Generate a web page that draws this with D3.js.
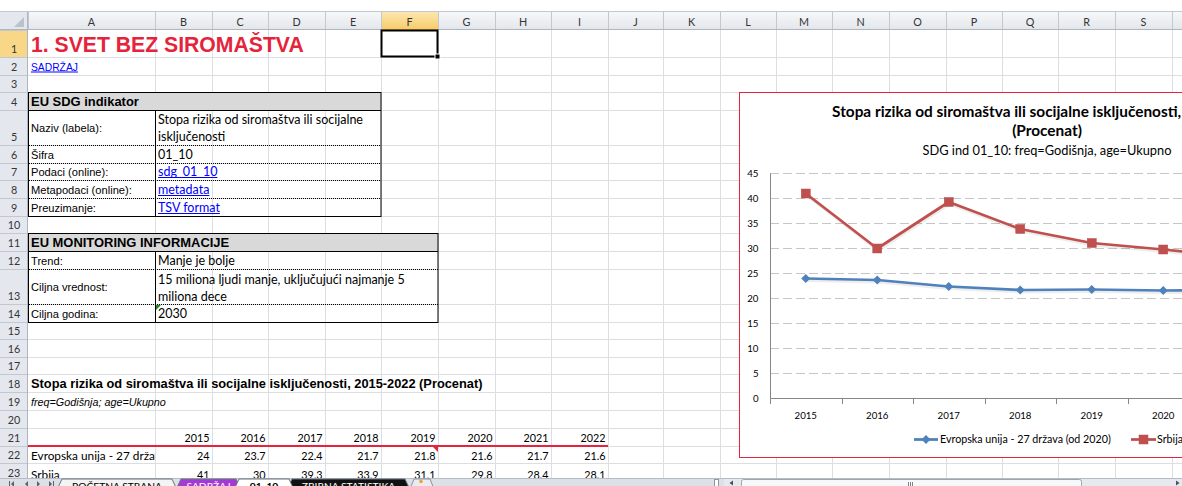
<!DOCTYPE html>
<html><head><meta charset="utf-8">
<script src="https://cdn.jsdelivr.net/npm/d3@7"></script>
<style>body{margin:0;background:#fff;overflow:hidden}</style>
</head><body>
<svg id="c" width="1182" height="486" xmlns="http://www.w3.org/2000/svg"></svg>
<script>
// ---------- data ----------
const years = [2015, 2016, 2017, 2018, 2019, 2020, 2021, 2022];
const euValues = [24, 23.7, 22.4, 21.7, 21.8, 21.6, 21.7, 21.6];
const srbValues = [41, 30, 39.3, 33.9, 31.1, 29.8, 28.4, 28.1];
const seriesNames = ["Evropska unija - 27 država (od 2020)", "Srbija"];
const rowSeriesLabels = ["Evropska unija - 27 država (od 2020)", "Srbija"];
const yTicks = [0, 5, 10, 15, 20, 25, 30, 35, 40, 45];
const chartTitleLines = ["Stopa rizika od siromaštva ili socijalne isključenosti, 2015-2022", "(Procenat)"];
const chartSubtitle = "SDG ind 01_10: freq=Godišnja, age=Ukupno";
const columnLetters = ["A","B","C","D","E","F","G","H","I","J","K","L","M","N","O","P","Q","R","S","T"];
const sheetTitle = "1. SVET BEZ SIROMAŠTVA";
const contentsLink = "SADRŽAJ";
const indicatorHeader = "EU SDG indikator";
const indicatorLabels = ["Naziv (labela):", "Šifra", "Podaci (online):", "Metapodaci (online):", "Preuzimanje:"];
const indicatorValues = [["Stopa rizika od siromaštva ili socijalne", "isključenosti"], ["01_10"], ["sdg_01_10"], ["metadata"], ["TSV format"]];
const indicatorIsLink = [false, false, true, true, true];
const monitorHeader = "EU MONITORING INFORMACIJE";
const monitorLabels = ["Trend:", "Ciljna vrednost:", "Ciljna godina:"];
const monitorValues = [["Manje je bolje"], ["15 miliona ljudi manje, uključujući najmanje 5", "miliona dece"], ["2030"]];
const tableTitle = "Stopa rizika od siromaštva ili socijalne isključenosti, 2015-2022 (Procenat)";
const tableSubtitle = "freq=Godišnja; age=Ukupno";
const sheetTabs = ["POČETNA STRANA", "SADRŽAJ", "01_10", "ZBIRNA STATISTIKA"];

// ---------- layout ----------
const W = 1182, H = 486;
const colEdges = [0,28,155,212,268,325,381,438,495,551,608,663,720,776,832,889,946,1002,1058,1115,1172,1229];
const rowEdges = [12,30,57,75,92,110,145,163,180,198,216,233,251,269,304,322,339,357,374,392,410,428,446,463,481,498];
const rowTop = r => rowEdges[r], rowBot = r => rowEdges[r + 1];
const colL = i => colEdges[i + 1], colR = i => colEdges[i + 2]; // i: 0 = A

const CAL = "Lato, 'Open Sans', sans-serif";
const ARI = "'Liberation Sans', Arial, sans-serif";

const svg = d3.select("#c");
svg.append("rect").attr("width", W).attr("height", H).attr("fill", "#fff");

const meas = svg.append("text").attr("x", -2000).attr("y", -2000);
function fit(str, target, family, weight = "normal", style = "normal") {
  meas.attr("font-family", family).attr("font-weight", weight).attr("font-style", style).attr("font-size", 100).text(str);
  return 100 * target / meas.node().getComputedTextLength();
}
const fsCell = fit("Stopa rizika od siromaštva ili socijalne", 205, CAL);
const fsNum = fit("2017", 25, CAL);
const fsRowLab = fit("Evropska unija - 27 drža", 124, CAL);
const fsTitle = fit(sheetTitle, 273, ARI, "bold");
const fsHdr = fit(indicatorHeader, 108, ARI, "bold");
const fsLbl = fit("Metapodaci (online):", 101, ARI);
const fsT18 = fit(tableTitle, 452, ARI, "bold");
const fsT19 = fit(tableSubtitle, 135, ARI, "normal", "italic");
const fsLink = fit(contentsLink, 47, ARI);
const fsCT = fit("Stopa rizika od siromaštva ili socijalne isključenosti", 346, CAL, "bold");
const fsCS = fit(chartSubtitle, 249, CAL);
const fsAx = fit("2015", 22.5, CAL);
const fsLeg = fit(seriesNames[0], 171, CAL);
const fsTab = fit(sheetTabs[0], 90, CAL);
meas.remove();

const defs = svg.append("defs");
function vgrad(id, a, b) {
  const g = defs.append("linearGradient").attr("id", id).attr("x1", 0).attr("y1", 0).attr("x2", 0).attr("y2", 1);
  g.append("stop").attr("offset", 0).attr("stop-color", a);
  g.append("stop").attr("offset", 1).attr("stop-color", b);
}
vgrad("hdr", "#F6F7F9", "#E2E6EB");
vgrad("sel", "#FCE7B0", "#F5CB66");
defs.append("clipPath").attr("id", "clipA").append("rect").attr("x", 28).attr("y", 0).attr("width", 127).attr("height", H);

// ---------- sheet grid ----------
const grid = svg.append("g").attr("stroke", "#DCDEE1").attr("stroke-width", 1);
colEdges.slice(2).forEach(x => grid.append("line").attr("x1", x + 0.5).attr("x2", x + 0.5).attr("y1", 30).attr("y2", 478));
rowEdges.slice(2).forEach(y => grid.append("line").attr("x1", 28).attr("x2", W).attr("y1", y + 0.5).attr("y2", y + 0.5));

// top line
svg.append("line").attr("x1", 0).attr("x2", W).attr("y1", 11.5).attr("y2", 11.5).attr("stroke", "#C3C9D0");

// column header band
svg.append("rect").attr("x", 0).attr("y", 12).attr("width", W).attr("height", 18).attr("fill", "url(#hdr)");
svg.append("rect").attr("x", colL(5)).attr("y", 12).attr("width", colR(5) - colL(5)).attr("height", 18).attr("fill", "url(#sel)");
colEdges.slice(1).forEach(x => svg.append("line").attr("x1", x + 0.5).attr("x2", x + 0.5).attr("y1", 12).attr("y2", 30).attr("stroke", "#C3C8CF"));
svg.append("line").attr("x1", 0).attr("x2", W).attr("y1", 29.5).attr("y2", 29.5).attr("stroke", "#AEB5BF");
svg.append("line").attr("x1", colL(5)).attr("x2", colR(5)).attr("y1", 29.5).attr("y2", 29.5).attr("stroke", "#E2A93C");
svg.append("g").selectAll("text").data(columnLetters).join("text")
  .attr("x", (d, i) => (colL(i) + colR(i)) / 2).attr("y", 25.5).attr("text-anchor", "middle")
  .attr("font-family", CAL).attr("font-size", fsNum).attr("fill", "#353535").text(d => d);

// row header column
svg.append("rect").attr("x", 0).attr("y", 30).attr("width", 28).attr("height", 448).attr("fill", "#E4E8EE");
svg.append("rect").attr("x", 0).attr("y", 30).attr("width", 28).attr("height", 27).attr("fill", "#F8D888");
rowEdges.slice(1).forEach(y => svg.append("line").attr("x1", 0).attr("x2", 28).attr("y1", y + 0.5).attr("y2", y + 0.5).attr("stroke", "#C3C8CF"));
svg.append("line").attr("x1", 27.5).attr("x2", 27.5).attr("y1", 12).attr("y2", 478).attr("stroke", "#AEB5BF");
const rowNums = d3.range(1, 24);
svg.append("g").selectAll("text").data(rowNums).join("text")
  .attr("x", 14).attr("y", r => rowBot(r) - 4).attr("text-anchor", "middle")
  .attr("font-family", CAL).attr("font-size", fsNum).attr("fill", "#353535").text(r => r);
// select-all corner
svg.append("rect").attr("x", 0).attr("y", 12).attr("width", 27).attr("height", 17).attr("fill", "#E4E8EE");
svg.append("path").attr("d", "M24,17 L24,27 L14,27 Z").attr("fill", "#BCC2CA");

// ---------- cell fills & borders ----------
svg.append("rect").attr("x", 28).attr("y", 92).attr("width", 353).attr("height", 18).attr("fill", "#D9D9D9");
svg.append("rect").attr("x", 28).attr("y", 233).attr("width", 410).attr("height", 18).attr("fill", "#D9D9D9");
const bx = svg.append("g").attr("fill", "none").attr("stroke", "#000");
bx.append("rect").attr("x", 28.5).attr("y", 92.5).attr("width", 352.5).attr("height", 124);
bx.append("line").attr("x1", 28).attr("x2", 381).attr("y1", 110.5).attr("y2", 110.5);
bx.append("line").attr("x1", 155.5).attr("x2", 155.5).attr("y1", 110.5).attr("y2", 216.5);
[145, 163, 180, 198].forEach(y => bx.append("line").attr("x1", 29).attr("x2", 381).attr("y1", y + 0.5).attr("y2", y + 0.5).attr("stroke-dasharray", "1,1"));
bx.append("rect").attr("x", 28.5).attr("y", 233.5).attr("width", 409.5).attr("height", 89);
bx.append("line").attr("x1", 28).attr("x2", 438).attr("y1", 251.5).attr("y2", 251.5);
bx.append("line").attr("x1", 155.5).attr("x2", 155.5).attr("y1", 251.5).attr("y2", 322.5);
[269, 304].forEach(y => bx.append("line").attr("x1", 29).attr("x2", 438).attr("y1", y + 0.5).attr("y2", y + 0.5).attr("stroke-dasharray", "1,1"));

// ---------- cell texts ----------
function txt(x, y, s, fam, fs, opt = {}) {
  const t = svg.append("text").attr("x", x).attr("y", y).attr("font-family", fam).attr("font-size", fs)
    .attr("font-weight", opt.w || "normal").attr("font-style", opt.st || "normal")
    .attr("fill", opt.fill || "#000").attr("text-anchor", opt.anchor || "start").text(s);
  if (opt.clip) t.attr("clip-path", opt.clip);
  if (opt.underline) {
    const len = t.node().getComputedTextLength();
    svg.append("line").attr("x1", x).attr("x2", x + len).attr("y1", y + 1.5).attr("y2", y + 1.5)
      .attr("stroke", opt.fill).attr("stroke-width", 1);
  }
  return t;
}
txt(31, 52, sheetTitle, ARI, fsTitle, { w: "bold", fill: "#E5243B" });
txt(31, rowBot(2) - 4.5, contentsLink, ARI, fsLink, { fill: "#0000FF", underline: true });
txt(31, rowBot(4) - 4, indicatorHeader, ARI, fsHdr, { w: "bold" });
indicatorLabels.forEach((lab, i) => {
  const r = 5 + i, vals = indicatorValues[i];
  const cy = vals.length > 1 ? (rowTop(r) + rowBot(r)) / 2 + 4 : rowBot(r) - 4;
  txt(31, cy, lab, ARI, fsLbl);
  vals.forEach((v, k) => {
    const y = vals.length > 1 ? rowBot(r) - 21 + k * 17 : rowBot(r) - 4;
    txt(colL(1) + 3, y, v, CAL, fsCell, indicatorIsLink[i] ? { fill: "#0000FF", underline: true } : {});
  });
});
txt(31, rowBot(11) - 4, monitorHeader, ARI, fsHdr, { w: "bold" });
monitorLabels.forEach((lab, i) => {
  const r = 12 + i, vals = monitorValues[i];
  const cy = vals.length > 1 ? (rowTop(r) + rowBot(r)) / 2 + 4 : rowBot(r) - 4;
  txt(31, cy, lab, ARI, fsLbl);
  vals.forEach((v, k) => {
    const y = vals.length > 1 ? rowBot(r) - 20.5 + k * 17 : rowBot(r) - 4;
    txt(colL(1) + 3, y, v, CAL, fsCell);
  });
});
svg.append("path").attr("d", "M156,305 L161,305 L156,310 Z").attr("fill", "#1E8A1E");
txt(31, rowBot(18) - 4, tableTitle, ARI, fsT18, { w: "bold" });
txt(31, rowBot(19) - 4.5, tableSubtitle, ARI, fsT19, { st: "italic" });

// data table
years.forEach((yr, i) => {
  const xr = colR(1 + i) - 2.5;
  txt(xr, rowBot(21) - 4, yr, CAL, fsNum, { anchor: "end" });
  txt(xr, rowBot(22) - 3, euValues[i], CAL, fsNum, { anchor: "end" });
  txt(xr, rowBot(23) - 2, srbValues[i], CAL, fsNum, { anchor: "end" });
});
txt(31, rowBot(22) - 3, rowSeriesLabels[0], CAL, fsRowLab, { clip: "url(#clipA)" });
txt(31, rowBot(23) - 2, rowSeriesLabels[1], CAL, fsRowLab, { clip: "url(#clipA)" });
svg.append("line").attr("x1", 28).attr("x2", colR(8)).attr("y1", 446).attr("y2", 446).attr("stroke", "#E5243B").attr("stroke-width", 2);
svg.append("path").attr("d", "M433,447 L438,447 L438,452 Z").attr("fill", "#E5243B");

// selected cell F1
svg.append("rect").attr("x", colL(5) + 0.5).attr("y", 30.5).attr("width", colR(5) - colL(5) - 1).attr("height", 26)
  .attr("fill", "none").attr("stroke", "#000").attr("stroke-width", 2);
svg.append("rect").attr("x", colR(5) - 3).attr("y", 54).attr("width", 5).attr("height", 5).attr("fill", "#000").attr("stroke", "#fff").attr("stroke-width", 1);

// ---------- chart ----------
const cx0 = 739, cy0 = 92, cw = 616, chh = 365;
const cmid = cx0 + cw / 2;
svg.append("rect").attr("x", cx0 + 0.5).attr("y", cy0 + 0.5).attr("width", cw).attr("height", chh)
  .attr("fill", "#fff").attr("stroke", "#E5243B").attr("stroke-width", 1);
const ch = svg.append("g");
ch.append("text").attr("x", cmid).attr("y", 116.5).attr("text-anchor", "middle").attr("font-family", CAL)
  .attr("font-weight", "bold").attr("font-size", fsCT).attr("fill", "#000").text(chartTitleLines[0]);
ch.append("text").attr("x", cmid).attr("y", 136).attr("text-anchor", "middle").attr("font-family", CAL)
  .attr("font-weight", "bold").attr("font-size", fsCT).attr("fill", "#000").text(chartTitleLines[1]);
ch.append("text").attr("x", cmid).attr("y", 154.5).attr("text-anchor", "middle").attr("font-family", CAL)
  .attr("font-size", fsCS).attr("fill", "#000").text(chartSubtitle);

const x = d3.scaleBand().domain(years).range([770, 1342]).padding(0);
const y = d3.scaleLinear().domain([0, 45]).range([398.5, 173.5]);
const cxp = d => x(d) + x.bandwidth() / 2;

ch.append("g").selectAll("line").data(yTicks.filter(t => t > 0)).join("line")
  .attr("x1", 770).attr("x2", 1342).attr("y1", d => y(d)).attr("y2", d => y(d))
  .attr("stroke", "#C6C6C6").attr("stroke-width", 1).attr("stroke-dasharray", "9,4");

const yAx = ch.append("g").attr("transform", "translate(770,-0.5)")
  .call(d3.axisLeft(y).tickValues(yTicks).tickSize(0).tickSizeOuter(0).tickPadding(11.5));
yAx.select(".domain").attr("stroke", "#868686");
yAx.selectAll("text").attr("font-family", CAL).attr("font-size", fsAx).attr("fill", "#000");

const xAx = ch.append("g").attr("transform", "translate(0,398)")
  .call(d3.axisBottom(x).tickSize(0).tickSizeOuter(0).tickPadding(419 - 398.5 - 0.71 * fsAx));
xAx.select(".domain").attr("stroke", "#868686");
xAx.selectAll("text").attr("font-family", CAL).attr("font-size", fsAx).attr("fill", "#000");
const bounds = years.map(d => x(d)).concat([x.range()[1]]);
ch.append("g").selectAll("line").data(bounds).join("line")
  .attr("x1", d => Math.round(d) + 0.5).attr("x2", d => Math.round(d) + 0.5).attr("y1", 398.5).attr("y2", 404)
  .attr("stroke", "#868686");

const series = [
  { name: seriesNames[0], values: euValues, color: "#4F81BD", marker: "diamond" },
  { name: seriesNames[1], values: srbValues, color: "#C0504D", marker: "square" }
];
const line = d3.line().x(d => cxp(d.year)).y(d => y(d.v));
function marker(g, type, mx, my, color) {
  if (type === "square") {
    g.append("rect").attr("x", mx - 4.5).attr("y", my - 4.5).attr("width", 9).attr("height", 9)
      .attr("fill", color).attr("stroke", "#B8504C").attr("stroke-width", 0.5);
  } else {
    g.append("path").attr("d", `M${mx},${my - 4.5} L${mx + 4.5},${my} L${mx},${my + 4.5} L${mx - 4.5},${my} Z`)
      .attr("fill", color);
  }
}
series.forEach(s => {
  const pts = years.map((yr, i) => ({ year: yr, v: s.values[i] }));
  ch.append("path").datum(pts).attr("d", line).attr("fill", "none").attr("stroke", "#000").attr("stroke-opacity", 0.07)
    .attr("stroke-width", 3).attr("transform", "translate(1,2)");
  ch.append("path").datum(pts).attr("d", line).attr("fill", "none").attr("stroke", s.color).attr("stroke-width", 2.75)
    .attr("stroke-linejoin", "round");
  const mg = ch.append("g");
  pts.forEach(p => marker(mg, s.marker, cxp(p.year), y(p.v), s.color));
});

// legend
const leg = [{ x0: 914, x1: 938, tx: 940 }, { x0: 1131, x1: 1156, tx: 1157 }];
series.forEach((s, i) => {
  const L = leg[i], ly = 439.5;
  ch.append("line").attr("x1", L.x0).attr("x2", L.x1).attr("y1", ly).attr("y2", ly).attr("stroke", s.color).attr("stroke-width", 2.75);
  marker(ch, s.marker, (L.x0 + L.x1) / 2, ly, s.color);
  ch.append("text").attr("x", L.tx).attr("y", ly + 0.35 * fsLeg).attr("font-family", CAL).attr("font-size", fsLeg)
    .attr("fill", "#000").text(s.name);
});

// ---------- sheet tab bar ----------
const tb = svg.append("g");
tb.append("rect").attr("x", 0).attr("y", 478).attr("width", W).attr("height", 8).attr("fill", "#DCE1E7");
tb.append("line").attr("x1", 0).attr("x2", W).attr("y1", 478.5).attr("y2", 478.5).attr("stroke", "#B5BCC5");
[[11, -1], [25, -1], [37, 1], [49, 1]].forEach(([nx, dir]) => {
  tb.append("path").attr("d", dir < 0 ? `M${nx + 3},481 L${nx},484 L${nx + 3},487 Z` : `M${nx},481 L${nx + 3},484 L${nx},487 Z`).attr("fill", "#5A626C");
});
tb.append("line").attr("x1", 9.5).attr("x2", 9.5).attr("y1", 481).attr("y2", 487).attr("stroke", "#5A626C");
tb.append("line").attr("x1", 53.5).attr("x2", 53.5).attr("y1", 481).attr("y2", 487).attr("stroke", "#5A626C");
const tabDefs = [
  { label: sheetTabs[0], x0: 62, x1: 172, fill: "#F4F4F4", tc: "#000", w: "normal" },
  { label: sheetTabs[1], x0: 181, x1: 236, fill: "#A33AD6", tc: "#fff", w: "normal" },
  { label: sheetTabs[3], x0: 292, x1: 405, fill: "#111111", tc: "#fff", w: "normal" },
  { label: sheetTabs[2], x0: 239, x1: 289, fill: "#FFFFFF", tc: "#000", w: "bold" }
];
tabDefs.forEach(t => {
  tb.append("path").attr("d", `M${t.x0 - 7},494 L${t.x0},479 L${t.x1},479 L${t.x1 + 7},494 Z`)
    .attr("fill", t.fill).attr("stroke", "#6D747D").attr("stroke-width", 1);
  tb.append("text").attr("x", (t.x0 + t.x1) / 2).attr("y", 489.5).attr("text-anchor", "middle")
    .attr("font-family", CAL).attr("font-size", fsTab).attr("font-weight", t.w).attr("fill", t.tc).text(t.label);
});
tb.append("path").attr("d", "M408,494 L414,479 L430,479 L436,494 Z").attr("fill", "#E9EDF1").attr("stroke", "#8C939C");
tb.append("circle").attr("cx", 421).attr("cy", 481.5).attr("r", 1.8).attr("fill", "#E8A33A");
// horizontal scrollbar
tb.append("rect").attr("x", 714.5).attr("y", 479.5).attr("width", 4).attr("height", 7).attr("fill", "#fff").attr("stroke", "#8F98A3");
tb.append("rect").attr("x", 724).attr("y", 479).attr("width", W - 724).attr("height", 7).attr("fill", "#E6E9EE");
tb.append("path").attr("d", "M733,480.5 L729.5,483 L733,485.5 Z").attr("fill", "#4A525C");
tb.append("rect").attr("x", 741.5).attr("y", 479.5).attr("width", 340).attr("height", 8).attr("rx", 2)
  .attr("fill", "#F7F8FA").attr("stroke", "#9CA5B0");
[908.5, 910.5, 912.5].forEach(gx => tb.append("line").attr("x1", gx).attr("x2", gx).attr("y1", 482).attr("y2", 486).attr("stroke", "#7B848F"));
tb.append("path").attr("d", "M1176,480.5 L1179.5,483 L1176,485.5 Z").attr("fill", "#4A525C");
</script>
</body></html>
